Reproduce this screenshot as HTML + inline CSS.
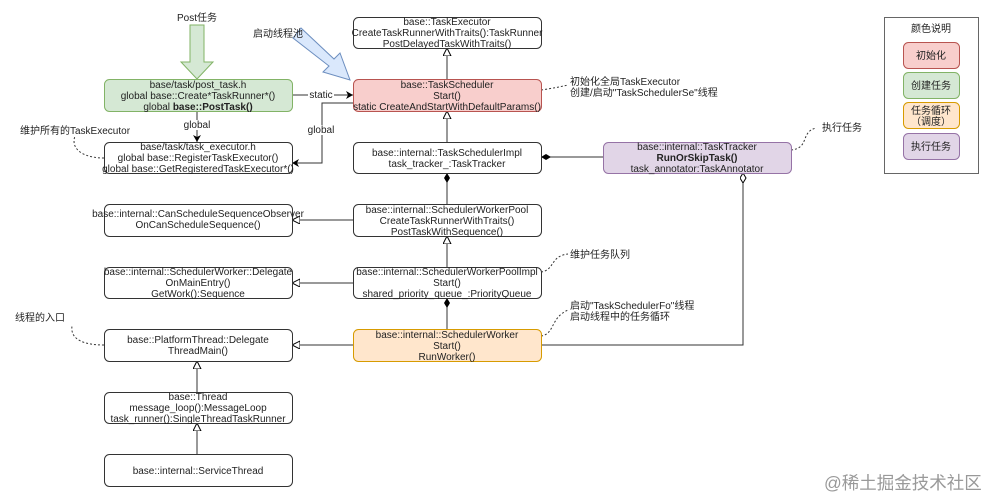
<!DOCTYPE html>
<html><head><meta charset="utf-8"><style>
body{margin:0;background:#fff}
svg text{font-family:"Liberation Sans","Noto Sans CJK SC",sans-serif;font-size:10px;fill:#222}
</style></head><body>
<svg width="991" height="499" viewBox="0 0 991 499" xmlns="http://www.w3.org/2000/svg">
<defs>
<marker id="fa" markerWidth="8" markerHeight="8" refX="7" refY="4" orient="auto" markerUnits="userSpaceOnUse"><path d="M0,0 L7,4 L0,8 L2,4z" fill="#000"/></marker>
<marker id="tri" markerWidth="10" markerHeight="10" refX="8" refY="4" orient="auto" markerUnits="userSpaceOnUse"><path d="M0,0 L8,4 L0,8z" fill="#fff" stroke="#000"/></marker>
<marker id="dia" markerWidth="12" markerHeight="8" refX="10" refY="3" orient="auto" markerUnits="userSpaceOnUse"><path d="M0,3 L5,0 L10,3 L5,6z" fill="#000"/></marker>
<marker id="hdia" markerWidth="12" markerHeight="8" refX="10" refY="3" orient="auto" markerUnits="userSpaceOnUse"><path d="M0,3 L5,0 L10,3 L5,6z" fill="#fff" stroke="#000"/></marker>
</defs>
<g fill="none" stroke="#333" stroke-width="1">
<line x1="447" y1="79" x2="447" y2="48" marker-end="url(#tri)"/>
<line x1="447" y1="142" x2="447" y2="111" marker-end="url(#tri)"/>
<line x1="447" y1="204" x2="447" y2="173" marker-end="url(#dia)"/>
<line x1="447" y1="267" x2="447" y2="236" marker-end="url(#tri)"/>
<line x1="447" y1="329" x2="447" y2="298" marker-end="url(#dia)"/>
<line x1="353" y1="220" x2="292" y2="220" marker-end="url(#tri)"/>
<line x1="353" y1="283" x2="292" y2="283" marker-end="url(#tri)"/>
<line x1="353" y1="345" x2="292" y2="345" marker-end="url(#tri)"/>
<line x1="197" y1="392" x2="197" y2="361" marker-end="url(#tri)"/>
<line x1="197" y1="454" x2="197" y2="423" marker-end="url(#tri)"/>
<line x1="603" y1="157" x2="541" y2="157" marker-end="url(#dia)"/>
<polyline points="541,345 743,345 743,173" marker-end="url(#hdia)"/>
<line x1="292" y1="95" x2="353" y2="95" marker-end="url(#fa)"/>
<polyline points="353,103 322,103 322,163 292,163" marker-end="url(#fa)"/>
<line x1="197" y1="111" x2="197" y2="142" marker-end="url(#fa)"/>
<g stroke-dasharray="2,2">
<path d="M541,90 Q555,88 568,85"/>
<path d="M791,150 C810,148 800,132 816,128"/>
<path d="M541,272 C555,270 550,256 568,254"/>
<path d="M541,336 C555,334 550,318 568,310"/>
<path d="M104,158 C85,158 70,150 75,136"/>
<path d="M104,345 C85,345 70,340 72,326"/>
</g>
</g>
<path d="M190,25 L204,25 L204,62 L213,62 L197,79 L181,62 L190,62z" fill="#d5e8d4" stroke="#82b366"/>
<path d="M293,38 L301,28 L334,59 L340,53 L350,80 L323,72 L329,66z" fill="#dae8fc" stroke="#6c8ebf"/>
<g stroke-width="1">
<rect x="353.5" y="17.5" width="188" height="31" rx="5" fill="#fff" stroke="#333"/>
<rect x="353.5" y="79.5" width="188" height="32" rx="5" fill="#f8cecc" stroke="#b85450"/>
<rect x="104.5" y="79.5" width="188" height="32" rx="5" fill="#d5e8d4" stroke="#82b366"/>
<rect x="104.5" y="142.5" width="188" height="31" rx="5" fill="#fff" stroke="#333"/>
<rect x="353.5" y="142.5" width="188" height="31" rx="5" fill="#fff" stroke="#333"/>
<rect x="603.5" y="142.5" width="188" height="31" rx="5" fill="#e1d5e7" stroke="#9673a6"/>
<rect x="104.5" y="204.5" width="188" height="32" rx="5" fill="#fff" stroke="#333"/>
<rect x="353.5" y="204.5" width="188" height="32" rx="5" fill="#fff" stroke="#333"/>
<rect x="104.5" y="267.5" width="188" height="31" rx="5" fill="#fff" stroke="#333"/>
<rect x="353.5" y="267.5" width="188" height="31" rx="5" fill="#fff" stroke="#333"/>
<rect x="104.5" y="329.5" width="188" height="32" rx="5" fill="#fff" stroke="#333"/>
<rect x="353.5" y="329.5" width="188" height="32" rx="5" fill="#ffe6cc" stroke="#d79b00"/>
<rect x="104.5" y="392.5" width="188" height="31" rx="5" fill="#fff" stroke="#333"/>
<rect x="104.5" y="454.5" width="188" height="32" rx="5" fill="#fff" stroke="#333"/>
<rect x="884.5" y="17.5" width="94" height="156" fill="#fff" stroke="#666"/>
<rect x="903.5" y="42.5" width="56" height="26" rx="5" fill="#f8cecc" stroke="#b85450"/>
<rect x="903.5" y="72.5" width="56" height="26" rx="5" fill="#d5e8d4" stroke="#82b366"/>
<rect x="903.5" y="102.5" width="56" height="26" rx="5" fill="#ffe6cc" stroke="#d79b00"/>
<rect x="903.5" y="133.5" width="56" height="26" rx="5" fill="#e1d5e7" stroke="#9673a6"/>
</g>
<g text-anchor="middle">
<text x="447" y="25">base::TaskExecutor</text>
<text x="447" y="36">CreateTaskRunnerWithTraits():TaskRunner</text>
<text x="447" y="47">PostDelayedTaskWithTraits()</text>
<text x="447" y="88">base::TaskScheduler</text>
<text x="447" y="99">Start()</text>
<text x="447" y="110">static CreateAndStartWithDefaultParams()</text>
<text x="198" y="88">base/task/post_task.h</text>
<text x="198" y="99">global base::Create*TaskRunner*()</text>
<text x="198" y="110">global <tspan font-weight="bold">base::PostTask()</tspan></text>
<text x="198" y="150">base/task/task_executor.h</text>
<text x="198" y="161">global base::RegisterTaskExecutor()</text>
<text x="198" y="172">global base::GetRegisteredTaskExecutor*()</text>
<text x="447" y="156">base::internal::TaskSchedulerImpl</text>
<text x="447" y="167">task_tracker_:TaskTracker</text>
<text x="697" y="150">base::internal::TaskTracker</text>
<text x="697" y="161" font-weight="bold">RunOrSkipTask()</text>
<text x="697" y="172">task_annotator:TaskAnnotator</text>
<text x="198" y="217">base::internal::CanScheduleSequenceObserver</text>
<text x="198" y="228">OnCanScheduleSequence()</text>
<text x="447" y="213">base::internal::SchedulerWorkerPool</text>
<text x="447" y="224">CreateTaskRunnerWithTraits()</text>
<text x="447" y="235">PostTaskWithSequence()</text>
<text x="198" y="275">base::internal::SchedulerWorker::Delegate</text>
<text x="198" y="286">OnMainEntry()</text>
<text x="198" y="297">GetWork():Sequence</text>
<text x="447" y="275">base::internal::SchedulerWorkerPoolImpl</text>
<text x="447" y="286">Start()</text>
<text x="447" y="297">shared_priority_queue_:PriorityQueue</text>
<text x="198" y="343">base::PlatformThread::Delegate</text>
<text x="198" y="354">ThreadMain()</text>
<text x="447" y="338">base::internal::SchedulerWorker</text>
<text x="447" y="349">Start()</text>
<text x="447" y="360">RunWorker()</text>
<text x="198" y="400">base::Thread</text>
<text x="198" y="411">message_loop():MessageLoop</text>
<text x="198" y="422">task_runner():SingleThreadTaskRunner</text>
<text x="198" y="474">base::internal::ServiceThread</text>
<text x="197" y="21">Post任务</text>
<text x="931" y="32">颜色说明</text>
<text x="931" y="59">初始化</text>
<text x="931" y="89">创建任务</text>
<text x="931" y="114">任务循环</text>
<text x="931" y="125">（调度）</text>
<text x="931" y="150">执行任务</text>
<rect x="308" y="90" width="26" height="10" fill="#fff"/>
<text x="321" y="98">static</text>
<rect x="308" y="125" width="28" height="10" fill="#fff"/>
<text x="321" y="133">global</text>
<rect x="184" y="120" width="28" height="10" fill="#fff"/>
<text x="197" y="128">global</text>
</g>
<text x="253" y="37">启动线程池</text>
<text x="20" y="134">维护所有的TaskExecutor</text>
<text x="570" y="85">初始化全局TaskExecutor</text>
<text x="570" y="96">创建/启动"TaskSchedulerSe"线程</text>
<text x="822" y="131">执行任务</text>
<text x="570" y="258">维护任务队列</text>
<text x="570" y="309">启动"TaskSchedulerFo"线程</text>
<text x="570" y="320">启动线程中的任务循环</text>
<text x="15" y="321">线程的入口</text>
<text x="824" y="489" style="font-size:17.5px;fill:#999">@稀土掘金技术社区</text>
</svg>
</body></html>
